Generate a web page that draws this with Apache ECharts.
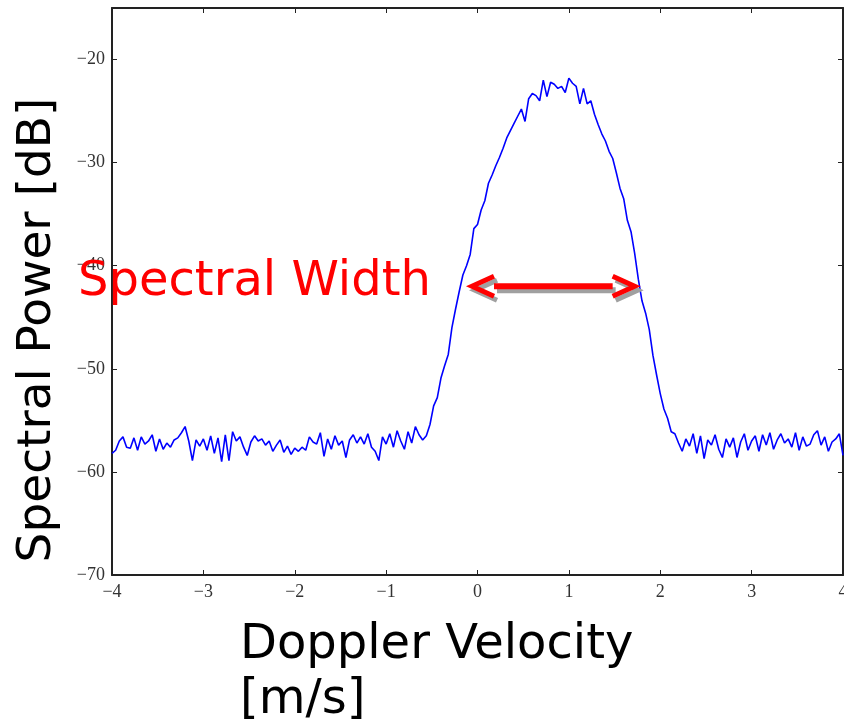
<!DOCTYPE html>
<html>
<head>
<meta charset="utf-8">
<script src="https://cdn.jsdelivr.net/npm/echarts@6/dist/echarts.min.js"></script>
<style>
html,body{margin:0;padding:0;background:#fff;}
#chart{width:844px;height:724px;}
</style>
</head>
<body>
<div id="chart"></div>
<script>
// Sampling grid of Doppler velocity [m/s]
const velocityStart = -4.0;
const velocityStep = 0.04;
// Spectral power [dB] (one value per velocity sample)
const noiseLeft = [
 -58.2,-57.9,-57.0,-56.6,-57.6,-57.7,-56.7,-57.9,-56.6,-57.3,
 -57.0,-56.4,-58.0,-56.8,-57.8,-57.2,-57.6,-56.9,-56.7,-56.2,
 -55.6,-57.0,-58.9,-56.9,-57.5,-56.8,-57.9,-56.5,-58.2,-56.7,
 -59.0,-56.4,-58.9,-56.1,-57.0,-56.6,-57.6,-58.4,-57.1,-56.5,
 -57.0,-56.8,-57.4,-57.0,-58.0,-57.4,-56.9,-58.1,-57.5,-58.3,
 -57.7,-58.0,-57.6,-57.9,-56.6,-57.1,-57.3,-56.2,-58.5,-56.8,
 -57.8,-56.5,-57.4,-57.0,-58.6,-56.9,-56.4,-57.2,-56.6,-57.3,
 -56.3,-57.6,-58.0,-58.9,-56.6,-57.3,-56.3,-57.6,-56.0,-57.0,
 -57.8,-56.1,-57.2,-55.6,-56.4
];
const peakPower = [
 -56.9,-56.5,-55.4,-53.6,-52.8,-50.9,-49.7,-48.6,-46.0,-44.2,
 -42.5,-40.9,-40.0,-38.9,-36.4,
 -36.0,-34.6,-33.7,-32.0,-31.2,-30.3,-29.5,-28.6,-27.6,-26.9,
 -26.2,-25.5,-24.8,-26.0,-23.8,-23.3,-23.5,-24.0,-22.0,-23.6,
 -22.2,-22.4,-22.8,-22.6,-23.2,
 -21.8,-22.3,-22.6,-24.3,-22.8,-24.3,-24.0,-25.3,-26.3,-27.2,
 -27.9,-28.9,-29.6,-31.0,-32.5,-33.5,-35.6,-36.7,-38.8,-41.3,
 -43.4,-44.6,-46.2,-48.7,-50.6,
 -52.4,-53.9,-54.8,-56.1,-56.3,-57.2,-58.0
];
const noiseRight = [
 -56.8,-57.5,-56.3,-58.2,-56.5,-58.7,-56.9,-57.4,-56.4,-57.8,
 -58.6,-56.8,-57.6,-56.7,-58.6,-57.1,-56.3,-57.9,-57.0,-56.5,
 -58.0,-56.4,-57.4,-56.2,-57.8,-56.9,-56.3,-57.2,-56.8,-57.6,
 -56.2,-57.9,-56.6,-57.5,-57.3,-56.4,-56.0,-57.4,-56.6,-58.0,
 -57.1,-56.8,-56.3,-58.4
];
const xTicks = [-4,-3,-2,-1,0,1,2,3,4];
const yTicks = [-70,-60,-50,-40,-30,-20];
const arrowLevel = -42;
const arrowFrom = -0.06;
const arrowTo = 1.72;
const annotationText = 'Spectral Width';
const xTitle1 = 'Doppler Velocity';
const xTitle2 = '[m/s]';
const yTitle = 'Spectral Power [dB]';

const power = noiseLeft.concat(peakPower, noiseRight);
const seriesData = power.map((p, i) => [+(velocityStart + i * velocityStep).toFixed(4), p]);

const fmt = v => (v < 0 ? '\u2212' + Math.abs(v) : String(v));

const chart = echarts.init(document.getElementById('chart'), null, {renderer: 'canvas'});
const labelFont = {fontFamily: 'Liberation Serif', fontSize: 18, color: '#333'};
const axisLine = {show: true, onZero: false, lineStyle: {color: '#222', width: 2}};
const tick = {show: true, inside: true, length: 5, lineStyle: {color: '#222', width: 1}};

chart.setOption({
  animation: false,
  backgroundColor: '#fff',
  grid: {left: 112, right: 1, top: 8, bottom: 149, containLabel: false, outerBoundsMode: 'none'},
  xAxis: [
    {type: 'value', min: xTicks[0], max: xTicks[xTicks.length-1], interval: 1, position: 'bottom',
     axisLine: axisLine, axisTick: tick, splitLine: {show: false},
     axisLabel: Object.assign({margin: 8, formatter: fmt}, labelFont)},
    {type: 'value', min: xTicks[0], max: xTicks[xTicks.length-1], interval: 1, position: 'top',
     axisLine: axisLine, axisTick: tick, splitLine: {show: false}, axisLabel: {show: false}}
  ],
  yAxis: [
    {type: 'value', min: -70, max: -15, interval: 10, position: 'left',
     axisLine: axisLine, axisTick: tick, splitLine: {show: false},
     axisLabel: Object.assign({margin: 7, formatter: v => (yTicks.indexOf(v) >= 0 ? fmt(v) : '')}, labelFont)},
    {type: 'value', min: -70, max: -15, interval: 10, position: 'right',
     axisLine: axisLine, axisTick: tick, splitLine: {show: false}, axisLabel: {show: false}}
  ],
  series: [{
    type: 'line', xAxisIndex: 0, yAxisIndex: 0, data: seriesData,
    showSymbol: false, symbol: 'none',
    lineStyle: {color: '#0000ff', width: 1.6}, z: 3
  }]
});

function drawAnnotations() {
  const a = chart.convertToPixel({gridIndex: 0}, [arrowFrom, arrowLevel]);
  const b = chart.convertToPixel({gridIndex: 0}, [arrowTo, arrowLevel]);
  const y = a[1], x1 = a[0], x2 = b[0];
  const hw = 22, hh = 10;
  function arrowParts(dx, dy, color) {
    return [
      {type: 'line', shape: {x1: x1 + hw + dx, y1: y + dy, x2: x2 - hw + dx, y2: y + dy},
       style: {stroke: color, lineWidth: 6}, z: 10},
      {type: 'polyline', shape: {points: [[x1 + hw + dx, y - hh + dy], [x1 + dx, y + dy], [x1 + hw + dx, y + hh + dy]]},
       style: {stroke: color, lineWidth: 5, fill: null, lineJoin: 'miter'}, z: 10},
      {type: 'polyline', shape: {points: [[x2 - hw + dx, y - hh + dy], [x2 + dx, y + dy], [x2 - hw + dx, y + hh + dy]]},
       style: {stroke: color, lineWidth: 5, fill: null, lineJoin: 'miter'}, z: 10}
    ];
  }
  const graphics = [].concat(
    arrowParts(3, 4, '#a0a0a0'),
    arrowParts(0, 0, '#ff0000'),
    [
      {type: 'text', x: 78, y: 283, z: 20,
       style: {text: annotationText, fill: '#ff0000', font: '48px "DejaVu Sans"', align: 'left', verticalAlign: 'middle'}},
      {type: 'text', x: 38, y: 330, rotation: Math.PI / 2, z: 20,
       style: {text: yTitle, fill: '#000', font: '47px "DejaVu Sans"', align: 'center', verticalAlign: 'middle'}},
      {type: 'text', x: 240, y: 646, z: 20,
       style: {text: xTitle1, fill: '#000', font: '48px "DejaVu Sans"', align: 'left', verticalAlign: 'middle'}},
      {type: 'text', x: 240, y: 701, z: 20,
       style: {text: xTitle2, fill: '#000', font: '48px "DejaVu Sans"', align: 'left', verticalAlign: 'middle'}}
    ]
  );
  chart.setOption({graphic: graphics});
}
drawAnnotations();
</script>
</body>
</html>
